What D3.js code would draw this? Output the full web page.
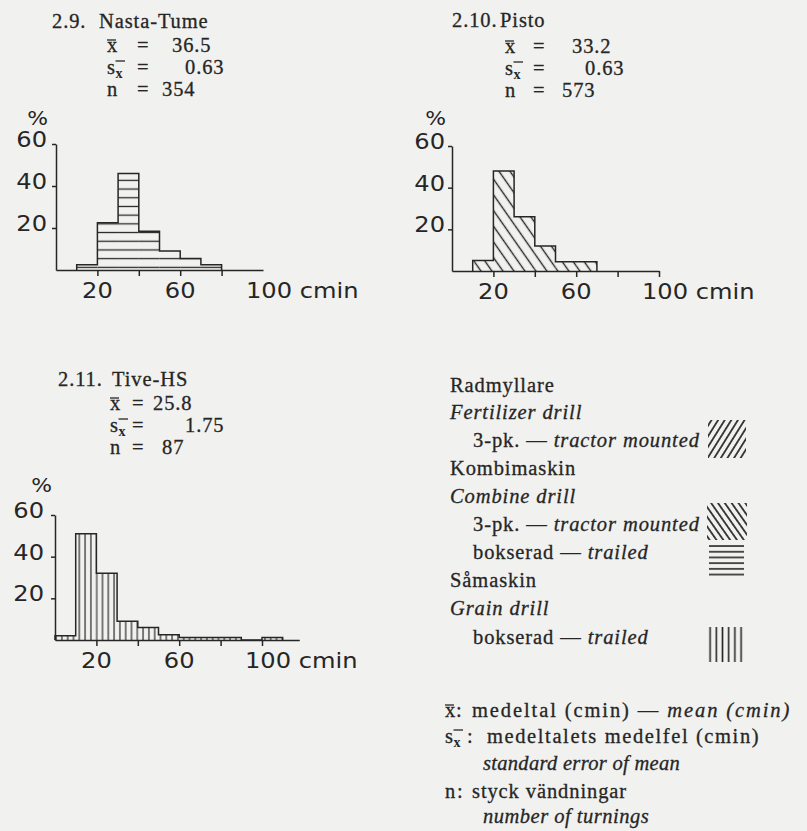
<!DOCTYPE html>
<html><head><meta charset="utf-8">
<script src="https://cdn.jsdelivr.net/npm/d3@7"></script>
<style>html,body{margin:0;padding:0;background:#f1f1ef;} svg{display:block}</style>
</head><body><svg id="c" width="807" height="831"></svg>
<script>
// ---------------- data ----------------
const binWidth = 10;
const nastaStart = 10;
const nastaValues = [2.5, 22.5, 46, 18.5, 9, 5.5, 2.5];
const pistoStart = 10;
const pistoValues = [5, 48, 26, 12, 4.5, 4.5];
const tiveStart = 0;
const tiveValues = [2, 51, 32, 9, 6, 2.5, 1.2, 1.2, 1.2, 0, 1.2];
const yTickValues = [20, 40, 60];
const xLabelValues = [20, 60];
const xUnit = "cmin";
const panelNumbers = ["2.9.", "2.10.", "2.11."];
const panelNames = ["Nasta-Tume", "Pisto", "Tive-HS"];
const meanValues = ["36.5", "33.2", "25.8"];
const seValues = ["0.63", "0.63", "1.75"];
const nValues = ["354", "573", "87"];

// ---------------- style ----------------
const ink = "#262626";
const serif = "'Liberation Serif', 'Times New Roman', serif";
const sans = "'DejaVu Sans', sans-serif";
const svg = d3.select("#c");
const defs = svg.append("defs");

function makePattern(id, kind, spacing, angle, px, py, sw) {
  const w = kind === "h" ? 20 : spacing, h = kind === "h" ? spacing : 20;
  const p = defs.append("pattern").attr("id", id).attr("patternUnits", "userSpaceOnUse")
    .attr("width", w).attr("height", h).attr("x", px || 0).attr("y", py || 0);
  if (angle) p.attr("patternTransform", `rotate(${angle})`);
  p.append("path").attr("d", kind === "h" ? `M0,${h/2}H${w}` : `M${w/2},0V${h}`)
    .attr("stroke", ink).attr("stroke-width", sw || 1.3).attr("fill", "none");
}
makePattern("hatchH", "h", 8.7, 0, 0, 2);
makePattern("hatchD", "v", 9, -35, 0, 0, 1.4);
makePattern("hatchV", "v", 5.8, 0, 1, 0, 1.2);
makePattern("legSlash", "v", 5.6, 32, 0, 0, 1.7);
makePattern("legBack", "v", 5.6, -35, 0, 0, 1.7);
makePattern("legH", "h", 5.7, 0, 0, 543.2, 1.6);
makePattern("legV", "v", 6.2, 0, 707, 0, 1.6);

// ---------------- panels ----------------
const panels = [
  {values: nastaValues, start: nastaStart, x0: 56, x100: 263, y0: 270, y60: 144, xMax: 100,
   marks: [20, 40, 60, 80], pattern: "hatchH", labelDx: -9, pct: [-8, -19]},
  {values: pistoValues, start: pistoStart, x0: 452, x100: 659, y0: 271, y60: 146, xMax: 100,
   marks: [20, 40, 60, 80, 100], pattern: "hatchD", labelDx: -7, pct: [-6, -21]},
  {values: tiveValues, start: tiveStart, x0: 55, x100: 262, y0: 640, y60: 515, xMax: 118,
   marks: [20, 40, 60, 80, 100], pattern: "hatchV", labelDx: -11, pct: [-3, -23]}
];

function sansText(g, x, y, txt, anchor, size) {
  return g.append("text").attr("transform", `translate(${x},${y}) scale(1.15,1)`)
    .attr("text-anchor", anchor).attr("font-family", sans).attr("font-size", size || 21)
    .attr("fill", ink).text(txt);
}

panels.forEach(P => {
  const k = (P.x100 - P.x0) / 100;
  const x = d3.scaleLinear().domain([0, P.xMax]).range([P.x0, P.x0 + P.xMax * k]);
  const y = d3.scaleLinear().domain([0, 60]).range([P.y0, P.y60]);
  const g = svg.append("g");
  const bins = P.values.map((v, i) => ({lo: P.start + i * binWidth, hi: P.start + (i + 1) * binWidth, v}));

  g.selectAll("rect.bar").data(bins.filter(d => d.v > 0)).join("rect").attr("class", "bar")
    .attr("x", d => x(d.lo)).attr("y", d => y(d.v))
    .attr("width", d => x(d.hi) - x(d.lo)).attr("height", d => y(0) - y(d.v))
    .attr("fill", `url(#${P.pattern})`);

  const pts = [[bins[0].lo, 0]];
  bins.forEach(d => { pts.push([d.lo, d.v]); pts.push([d.hi, d.v]); });
  pts.push([bins[bins.length - 1].hi, 0]);
  g.append("path").attr("d", d3.line().x(d => x(d[0])).y(d => y(d[1]))(pts))
    .attr("fill", "none").attr("stroke", ink).attr("stroke-width", 1.5);

  const xa = g.append("g").attr("transform", `translate(0,${P.y0})`)
    .call(d3.axisBottom(x).tickValues(P.marks).tickSize(6).tickSizeOuter(0).tickFormat(""));
  const ya = g.append("g").attr("transform", `translate(${P.x0},0)`)
    .call(d3.axisLeft(y).tickValues(yTickValues).tickSize(4).tickSizeOuter(0).tickFormat(""));
  [xa, ya].forEach(a => { a.selectAll("path,line").attr("stroke", ink).attr("stroke-width", 1.5); });

  yTickValues.forEach(v => sansText(g, P.x0 + P.labelDx, y(v) + 3, String(v), "end"));
  sansText(g, P.x0 + P.pct[0], y(60) + P.pct[1], "%", "end", 19);
  xLabelValues.forEach(v => sansText(g, x(v), P.y0 + 28, String(v), "middle"));
  sansText(g, x(100) - 17, P.y0 + 28, "100 " + xUnit, "start");
});

// ---------------- stats blocks ----------------
function serifText(g, x, y, parts, size, ls) {
  const t = g.append("text").attr("x", x).attr("y", y).attr("font-family", serif)
    .attr("font-size", size || 20.5).attr("letter-spacing", ls == null ? 0.9 : ls).attr("fill", ink)
    .attr("stroke", ink).attr("stroke-width", 0.3);
  parts.forEach(p => {
    const s = t.append("tspan").text(p[0]);
    if (p[1]) s.attr("font-style", "italic");
    if (p[2] != null) s.attr("x", p[2]);
  });
  return t;
}
function bar(g, x1, x2, yy) {
  g.append("line").attr("x1", x1).attr("x2", x2).attr("y1", yy).attr("y2", yy)
    .attr("stroke", ink).attr("stroke-width", 1.3);
}
function xbar(g, x, y) { // x with overline
  serifText(g, x, y, [["x"]]);
  bar(g, x, x + 9, y - 12);
}
function sxbar(g, x, y) { // s with subscript x-bar
  serifText(g, x, y, [["s"]]);
  g.append("text").attr("x", x + 8.5).attr("y", y + 4).attr("font-family", serif)
    .attr("font-size", 14).attr("fill", ink).attr("font-weight", "bold").text("x");
  bar(g, x + 8.5, x + 18, y - 13);
}

const blocks = [
  {tx: 52, nameX: 99, ty: 28, sx: 107, by: 52, eqX: 137, vx: [172, 185, 162]},
  {tx: 452, nameX: 500, ty: 27, sx: 505, by: 53, eqX: 533, vx: [572, 585, 562]},
  {tx: 58, nameX: 112, ty: 386, sx: 110, by: 410, eqX: 132, vx: [153, 185, 162]}
];
blocks.forEach((B, i) => {
  const g = svg.append("g");
  serifText(g, B.tx, B.ty, [[panelNumbers[i]]]);
  serifText(g, B.nameX, B.ty, [[panelNames[i]]]);
  xbar(g, B.sx, B.by);
  sxbar(g, B.sx, B.by + 22);
  serifText(g, B.sx, B.by + 44, [["n"]]);
  [0, 1, 2].forEach(r => serifText(g, B.eqX, B.by + 22 * r, [["="]]));
  serifText(g, B.vx[0], B.by, [[meanValues[i]]]);
  serifText(g, B.vx[1], B.by + 22, [[seValues[i]]]);
  serifText(g, B.vx[2], B.by + 44, [[nValues[i]]]);
});

// ---------------- legend ----------------
const lg = svg.append("g");
const legendLines = [
  [450, 392, [["Radmyllare"]]],
  [450, 419, [["Fertilizer drill", true]]],
  [473, 447, [["3-pk. — "], ["tractor mounted", true]]],
  [450, 475, [["Kombimaskin"]]],
  [450, 503, [["Combine drill", true]]],
  [473, 531, [["3-pk. — "], ["tractor mounted", true]]],
  [473, 559, [["bokserad — "], ["trailed", true]]],
  [450, 587, [["Såmaskin"]]],
  [450, 615, [["Grain drill", true]]],
  [473, 644, [["bokserad — "], ["trailed", true]]]
];
legendLines.forEach(l => serifText(lg, l[0], l[1], l[2]));
const swatches = [
  [708, 420, 38, 38, "legSlash"],
  [707, 503, 40, 37, "legBack"],
  [709, 543, 35, 33, "legH"],
  [707, 627, 37, 35, "legV"]
];
swatches.forEach(s => lg.append("rect").attr("x", s[0]).attr("y", s[1]).attr("width", s[2])
  .attr("height", s[3]).attr("fill", `url(#${s[4]})`));

xbar(lg, 445, 717);
serifText(lg, 456, 717, [[":"]]);
serifText(lg, 472, 717, [["medeltal (cmin) — "], ["mean (cmin)", true]], 20.5, 1.9);
sxbar(lg, 445, 743);
serifText(lg, 467, 743, [[":"]]);
serifText(lg, 487, 743, [["medeltalets medelfel (cmin)"]], 20.5, 1.6);
serifText(lg, 483, 770, [["standard error of mean", true]], 20.5, 0.3);
serifText(lg, 445, 798, [["n"]]);
serifText(lg, 457, 798, [[":"]]);
serifText(lg, 472, 798, [["styck vändningar"]]);
serifText(lg, 483, 823, [["number of turnings", true]], 20.5, 0.5);
</script></body></html>
